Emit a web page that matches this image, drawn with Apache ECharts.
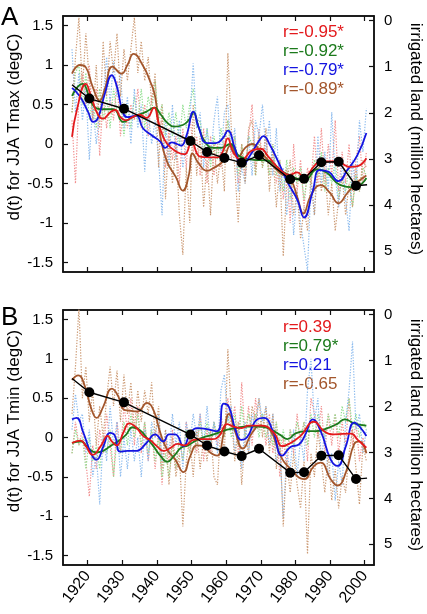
<!DOCTYPE html>
<html><head><meta charset="utf-8">
<script src="https://cdn.jsdelivr.net/npm/echarts@6/dist/echarts.min.js"></script>
<style>html,body{margin:0;padding:0;background:#fff}#c{width:427px;height:614px}</style>
</head><body><div id="c"></div>
<script>
// ---------- DATA ----------
const firstYear = 1915;  // annual series run 1915..2000 (plotted at mid-year)
const xTicks = [1920,1930,1940,1950,1960,1970,1980,1990,2000];
const yTicksLeft = [-1.5,-1,-0.5,0,0.5,1,1.5];
const yTicksRight = [0,1,2,3,4,5];

// irrigated land (million hectares), census points
const irrYears = [1915.5,1920.5,1930.5,1949.7,1954.5,1959.5,1964.5,1969.5,1978.5,1982.5,1987.5,1992.5,1997.5,2000.7];
const irrValues = [1.39,1.69,1.91,2.61,2.85,2.98,3.08,2.92,3.44,3.43,3.07,3.06,3.58,3.56];
const irrDot = [false,true,true,true,true,true,true,true,true,true,true,true,true,false];

// Panel A (Tmax) smoothed series [year, value]
const redA_s = [[1915.5,0.09],[1917,0.45],[1919.5,0.76],[1921,0.6],[1923,0.37],[1924.5,0.32],[1926.5,0.4],[1928,0.43],[1929.5,0.34],[1931,0.3],[1933,0.34],[1935,0.37],[1937,0.33],[1939.2,0.46],[1940.3,0.3],[1941.2,0.16],[1943,0.0],[1945.8,-0.1],[1948,-0.13],[1950,0.01],[1952.5,-0.16],[1955,-0.17],[1957.5,-0.17],[1959,-0.1],[1960.5,0.07],[1962,-0.1],[1964.5,-0.2],[1967.5,-0.08],[1970,-0.06],[1972,-0.15],[1975.7,-0.33],[1978.5,-0.39],[1980.5,-0.36],[1982.5,-0.42],[1985.4,-0.28],[1987.3,-0.22],[1991,-0.22],[1993,-0.24],[1996,-0.29],[1998,-0.28],[2000.5,-0.18]];
const greenA_s = [[1915.5,0.61],[1918.5,0.76],[1920.5,0.6],[1922,0.47],[1924.5,0.44],[1927.5,0.44],[1930.3,0.28],[1933,0.34],[1937,0.41],[1939.3,0.46],[1941,0.38],[1943,0.27],[1945,0.22],[1947.5,0.24],[1949.5,0.32],[1950.6,0.4],[1952,0.22],[1954,0.02],[1956.4,-0.05],[1958.5,-0.05],[1961.2,0.0],[1964,-0.16],[1968,-0.2],[1972,-0.21],[1975.7,-0.33],[1978.5,-0.4],[1982.5,-0.46],[1986.4,-0.32],[1989,-0.36],[1993,-0.52],[1997,-0.55],[2000.5,-0.43]];
const blueA_s = [[1915.5,0.71],[1917.8,0.6],[1920.2,0.4],[1921.6,0.28],[1923,0.33],[1925,0.64],[1927,0.87],[1928.5,0.72],[1930,0.43],[1931.5,0.34],[1934,0.36],[1936,0.2],[1938.5,0.11],[1941,0.03],[1942.4,-0.05],[1944.3,0.02],[1945.8,0.0],[1947,-0.02],[1948.5,0.1],[1950.6,0.41],[1952,0.22],[1954.5,0.01],[1957,0.01],[1959,0.07],[1960.5,0.17],[1962.5,-0.05],[1964.5,-0.28],[1967,-0.14],[1969.5,0.04],[1970.8,0.1],[1972.5,0.0],[1975,-0.22],[1977.7,-0.48],[1980.6,-0.71],[1982.5,-0.93],[1985,-0.6],[1987,-0.33],[1989.5,-0.35],[1992.4,-0.47],[1995,-0.33],[1997.9,-0.14],[2000.5,0.14]];
const brownA_s = [[1915.5,0.89],[1917.8,1.0],[1919.5,0.97],[1921.5,0.72],[1923.5,0.55],[1925,0.7],[1927.2,0.98],[1929.8,0.89],[1931.5,1.0],[1933.3,1.14],[1936,0.99],[1938,0.8],[1939.5,0.6],[1941,0.1],[1942.9,-0.22],[1945.5,-0.42],[1947.5,-0.59],[1949.2,-0.4],[1950.3,-0.12],[1952,-0.24],[1954.5,-0.34],[1956.5,-0.3],[1959,-0.22],[1961.3,-0.02],[1963.5,-0.16],[1965.5,-0.05],[1967.5,0.0],[1970,-0.1],[1972,-0.2],[1975.7,-0.37],[1978.6,-0.45],[1980.6,-0.68],[1982.3,-0.88],[1984.5,-0.65],[1987.3,-0.52],[1990,-0.62],[1992.4,-0.75],[1995,-0.62],[1997.5,-0.5],[2000.5,-0.4]];

// Panel A annual values 1915..2000
const redA = [0.3,-0.5,0.6,0.9,0.5,1.0,0.3,0.7,-0.15,0.6,0.2,0.6,0.3,0.8,0.1,0.5,0.2,0.5,0.3,0.7,0.2,0.5,0.1,0.6,0.8,0.2,0.3,-0.3,0.2,-0.2,0.1,-0.5,0.2,-0.3,0.4,-0.1,0.1,-0.4,0.2,-0.5,0.1,-0.4,0.0,-0.3,0.1,0.3,-0.2,0.1,-0.5,-0.1,-0.4,0.1,0.5,-0.3,0.2,-0.2,0.1,-0.4,0.0,-0.5,-0.2,-0.7,-0.3,-1.0,0.0,-0.6,-0.2,-0.8,-0.3,-0.5,0.1,-0.5,0.2,-0.5,0.0,-0.4,0.3,-0.6,-0.1,-0.5,0.0,-0.6,-0.2,0.1,-0.5,-0.1];
const greenA = [0.4,0.9,1.0,0.5,0.9,0.3,0.6,0.2,0.7,0.3,0.6,0.2,0.7,0.4,0.5,0.1,0.5,0.2,0.6,0.3,0.7,0.2,0.6,0.4,0.8,0.3,0.5,0.1,0.4,0.1,0.4,0.0,0.5,0.2,0.5,0.7,0.2,0.3,-0.1,0.2,-0.3,0.1,-0.2,0.2,-0.1,0.3,-0.1,0.1,-0.4,0.0,-0.3,0.1,0.0,-0.4,0.1,-0.3,-0.1,-0.4,0.0,-0.4,-0.2,-0.6,-0.2,-0.7,-0.3,-0.5,-0.3,-0.7,-0.4,-0.5,-0.2,-0.4,-0.1,-0.6,-0.3,-0.5,-0.2,-0.7,-0.4,-0.6,-0.3,-0.8,-0.4,-0.6,-0.3,-0.4];
const blueA = [1.2,0.4,0.9,0.3,0.7,-0.2,0.5,0.0,0.4,0.6,1.1,0.5,1.05,0.6,0.9,0.2,0.6,0.0,0.7,0.2,0.5,-0.35,0.4,0.0,0.3,-0.2,-0.9,0.3,-0.3,0.5,-0.2,0.3,-0.3,0.0,0.3,1.02,0.2,0.4,-0.3,0.2,-0.2,0.3,0.6,-0.2,0.4,0.5,-0.1,0.2,-0.6,-0.3,-0.5,0.1,-0.4,0.3,0.1,0.5,-0.1,0.3,-0.4,0.2,-0.6,-0.3,-0.9,-0.4,-1.15,-0.6,-1.0,-1.3,-1.6,-0.5,-0.9,0.1,-0.5,-0.1,-0.6,0.4,-0.4,-0.8,-0.2,-0.7,-1.1,-0.2,-0.6,0.3,-0.1,0.45];
const brownA = [0.4,1.1,1.6,0.7,1.4,0.8,0.3,1.0,0.2,1.3,0.6,1.3,0.9,1.4,0.6,1.2,0.8,1.2,1.6,0.9,1.3,0.8,1.1,0.5,0.9,-0.3,0.5,-0.7,0.1,-0.5,0.0,-0.9,-1.4,-0.3,-1.0,0.5,-0.4,0.1,-0.8,-0.2,-0.9,0.0,-0.5,-0.1,-0.6,1.15,0.2,-0.3,-1.0,0.0,-0.5,0.2,0.3,-0.4,0.1,-0.3,0.2,-0.6,-0.1,-0.8,-0.3,-1.42,-0.5,-0.2,-0.9,-0.6,-1.2,-0.8,-1.1,-0.4,-0.9,-0.2,-0.6,-0.3,-0.9,-0.5,-1.1,-0.7,-0.4,-0.9,-0.5,-0.8,-0.3,-0.6,-0.2,-0.3];

// Panel B (Tmin) smoothed series
const redB_s = [[1915.5,-0.07],[1918,-0.04],[1919.5,-0.11],[1921.5,-0.22],[1923.8,-0.11],[1925.8,0.02],[1927,-0.05],[1928.4,-0.1],[1930.3,0.06],[1932,0.18],[1934,0.13],[1936,0.02],[1938,-0.03],[1940,-0.11],[1942,-0.17],[1944,-0.13],[1946,-0.08],[1948,-0.1],[1950.6,-0.03],[1953,-0.02],[1956,-0.02],[1958,0.02],[1960.3,0.17],[1962,0.14],[1964.5,0.12],[1966.5,0.15],[1970,0.15],[1973.8,0.06],[1976.2,-0.11],[1978.6,-0.07],[1981.5,0.02],[1985.4,0.2],[1988.3,0.08],[1991.2,0.04],[1996,0.05],[1998,-0.03],[2000.5,-0.13]];
const greenB_s = [[1915.5,-0.07],[1918,-0.05],[1920.5,-0.15],[1922.5,-0.19],[1924.5,-0.17],[1926.5,-0.11],[1929,-0.04],[1931,0.03],[1933,0.13],[1935.2,0.09],[1937,0.0],[1939,-0.11],[1941,-0.23],[1943,-0.31],[1945,-0.23],[1947,-0.13],[1949,-0.1],[1951.6,-0.03],[1954,0.01],[1956.4,0.04],[1960.3,0.1],[1963,0.12],[1966,0.14],[1970,0.14],[1973,0.1],[1975.7,0.03],[1977.7,-0.02],[1980,0.05],[1983,0.08],[1986,0.08],[1989.3,0.12],[1992,0.17],[1994.3,0.23],[1997,0.18],[2000.5,0.15]];
const blueB_s = [[1915.5,0.23],[1916.8,0.25],[1918.7,0.07],[1921.2,-0.22],[1922.6,-0.28],[1924.5,-0.12],[1926.5,0.06],[1927.8,0.03],[1929.4,-0.18],[1931.5,-0.17],[1934,-0.17],[1937,-0.07],[1939.5,0.04],[1941.9,-0.05],[1943.5,0.04],[1945.3,0.04],[1947.7,-0.11],[1949.7,0.06],[1951.6,0.12],[1954,0.11],[1957.4,0.08],[1959.3,0.43],[1960.8,0.39],[1962.7,0.1],[1964.4,-0.03],[1966,0.0],[1969,0.23],[1970.9,0.25],[1973.5,0.08],[1976.2,-0.23],[1978.6,-0.12],[1981,-0.09],[1983,0.05],[1985,0.23],[1987.3,0.08],[1990.2,-0.28],[1992.2,-0.36],[1994.5,-0.12],[1997,0.19],[1998.5,0.14],[2000.5,0.02]];
const brownB_s = [[1915.5,0.73],[1917.3,0.79],[1919,0.68],[1921.2,0.35],[1922.6,0.25],[1924.5,0.39],[1927,0.62],[1928.9,0.52],[1930.3,0.36],[1932.3,0.34],[1934.5,0.33],[1937.1,0.44],[1939,0.35],[1941,0.06],[1942.9,-0.15],[1945.3,-0.28],[1947.7,-0.44],[1949.7,-0.23],[1951.6,-0.1],[1953.5,-0.11],[1955.4,-0.19],[1957.4,-0.23],[1959.3,0.05],[1960.8,0.3],[1962.7,0.06],[1964.8,-0.14],[1967.5,0.06],[1970,0.15],[1972.8,0.09],[1975.7,-0.23],[1978.6,-0.4],[1982.5,-0.53],[1985.4,-0.36],[1987.3,-0.32],[1990.2,-0.53],[1992.2,-0.61],[1994.6,-0.44],[1997,-0.08],[1998.5,-0.05],[2000.5,-0.2]];

// Panel B annual values 1915..2000
const redB = [-0.2,0.2,-0.1,0.1,-0.3,-0.75,-0.1,-0.4,0.1,-0.2,0.3,-0.1,-0.5,0.2,-0.2,0.4,0.1,0.5,-0.1,0.4,-0.2,0.2,-0.3,0.1,-0.4,0.1,-0.6,0.0,-0.3,0.1,-0.4,0.0,-0.3,0.2,-0.2,0.1,-0.2,0.3,-0.3,0.1,-0.2,0.2,-0.1,0.3,0.0,0.5,0.1,0.4,-0.2,0.7,0.0,0.4,-0.1,0.5,0.1,0.3,-0.1,0.3,-0.2,0.2,-0.5,0.0,-0.4,0.1,-0.2,0.3,-0.1,0.2,-0.3,0.5,0.3,0.0,0.4,-0.2,0.3,-0.1,0.3,-0.2,0.2,-0.1,0.5,-0.1,0.2,-0.3,0.0,-0.2];
const greenB = [-0.2,0.1,-0.1,0.0,-0.4,0.0,-0.3,-0.1,-0.4,0.0,-0.2,0.1,-0.5,0.0,-0.2,0.2,-0.1,0.3,0.0,0.3,-0.1,0.2,-0.2,0.1,-0.3,0.0,-0.5,-0.2,-0.5,-0.1,-0.4,0.0,-0.3,0.1,-0.2,0.1,-0.1,0.2,-0.1,0.2,-0.1,0.2,0.0,0.2,0.0,0.3,0.0,0.3,-0.1,0.4,0.0,0.3,0.1,0.3,0.0,0.3,0.0,0.2,-0.1,0.2,-0.2,0.1,-0.2,0.1,-0.1,0.2,0.0,0.2,-0.1,0.3,0.0,0.3,0.1,0.0,0.3,0.1,0.3,0.0,0.4,0.2,0.5,0.1,0.3,0.0,0.2,0.1];
const blueB = [0.1,0.55,0.2,0.3,-0.2,0.1,-0.5,-0.2,-0.85,0.0,-0.3,0.4,-0.1,0.2,-0.5,0.0,-0.4,0.1,-0.3,0.0,-0.5,0.1,-0.3,0.2,0.0,0.3,-0.3,0.1,-0.2,0.3,-0.1,0.2,-0.4,0.2,-0.1,0.3,0.0,0.3,-0.1,0.4,-0.1,0.2,-0.2,0.6,0.8,0.2,0.4,-0.2,0.1,-0.4,0.2,-0.2,0.3,0.1,0.5,0.2,0.4,-0.1,0.3,-0.3,-0.1,-1.03,-0.2,-0.4,0.1,-0.5,0.0,-0.3,0.6,1.0,0.2,0.5,-0.3,0.1,-0.5,-0.2,-0.8,-0.3,-0.6,0.2,0.6,1.22,0.1,0.3,-0.2,0.1];
const brownB = [0.3,0.9,1.65,0.5,0.9,0.2,0.6,-0.1,0.4,0.0,0.5,0.9,0.4,0.85,0.2,0.8,0.3,0.7,0.1,0.6,0.2,0.6,0.3,0.7,0.0,0.4,-0.4,0.1,-0.6,0.0,-0.5,-0.2,-1.13,-0.3,0.0,-0.5,0.1,-0.4,0.0,-0.3,0.1,-0.5,-0.6,0.2,-0.2,1.12,0.3,-0.3,0.2,-0.6,0.0,-0.2,0.4,0.2,0.5,0.0,0.4,-0.2,0.3,-0.4,0.0,-1.13,-0.3,-0.7,-0.2,-0.6,-0.9,-0.3,-1.48,-0.2,-0.5,0.1,-0.3,-0.7,-0.2,-0.8,-0.4,-0.9,-0.5,-0.7,-0.2,0.1,-0.4,-0.85,-0.1,-0.3];

const labelsA = ['r=-0.95*','r=-0.92*','r=-0.79*','r=-0.89*'];
const labelsB = ['r=0.39','r=0.79*','r=0.21','r=-0.65'];
const axisNameA = 'd(t) for JJA Tmax (degC)';
const axisNameB = 'd(t) for JJA Tmin (degC)';
const rightName = 'irrigated land (million hectares)';

// ---------- STYLE ----------
const C = {red:'#e3191c', green:'#1c7a1c', blue:'#1414e0', brown:'#a3562c'};
const L = {red:'#f19090', green:'#8fdf8f', blue:'#8cbbee', brown:'#cc9a74'};
const FONT = 'Liberation Sans, Arial, Helvetica, sans-serif';
const grids = [
  {left:63, top:16, width:311, height:256},
  {left:63, top:310, width:311, height:255}
];

const annual = arr => arr.map((v,i) => [firstYear + i + 0.5, v]);

const chart = echarts.init(document.getElementById('c'), null, {renderer:'canvas'});
const xAxes = [], yAxes = [], series = [];
grids.forEach((g, gi) => {
  const tickStyle = {show:true, inside:true, length:5, lineStyle:{color:'#111', width:1.2}};
  xAxes.push({gridIndex:gi, type:'value', min:1912.9, max:2002.7, position:'bottom',
    axisLine:{show:true, onZero:false, lineStyle:{color:'#111', width:1.5}},
    axisTick:Object.assign({customValues:xTicks}, tickStyle),
    axisLabel:{show:gi===1, customValues:xTicks, rotate:52, fontSize:16, color:'#000', fontFamily:FONT, margin:8, formatter: v => String(v)},
    splitLine:{show:false}});
  xAxes.push({gridIndex:gi, type:'value', min:1912.9, max:2002.7, position:'top',
    axisLine:{show:true, onZero:false, lineStyle:{color:'#111', width:1.5}},
    axisTick:Object.assign({customValues:xTicks}, tickStyle),
    axisLabel:{show:false}, splitLine:{show:false}});
  yAxes.push({gridIndex:gi, type:'value', min:-1.62, max:1.62, position:'left',
    axisLine:{show:true, onZero:false, lineStyle:{color:'#111', width:1.5}},
    axisTick:Object.assign({customValues:yTicksLeft}, tickStyle),
    axisLabel:{customValues:yTicksLeft, fontSize:15, color:'#000', fontFamily:FONT, margin:10},
    splitLine:{show:false}});
  yAxes.push({gridIndex:gi, type:'value', min:-0.1, max:5.45, inverse:true, position:'right',
    axisLine:{show:true, onZero:false, lineStyle:{color:'#111', width:1.5}},
    axisTick:Object.assign({customValues:yTicksRight}, tickStyle),
    axisLabel:{customValues:yTicksRight, fontSize:15, color:'#000', fontFamily:FONT, margin:10},
    splitLine:{show:false}});
});

function addPanel(gi, dotted, smooth) {
  const xi = gi*2, yi = gi*2;
  const keys = ['red','green','blue','brown'];
  keys.forEach((k, i) => {
    series.push({type:'line', xAxisIndex:xi, yAxisIndex:yi, data:annual(dotted[i]), symbol:'none',
      lineStyle:{color:L[k], width:1.2, type:[1.3,1.5]}, z:1, silent:true, clip:true});
  });
  ['brown','green','blue','red'].forEach(k => {
    const i = keys.indexOf(k);
    series.push({type:'line', xAxisIndex:xi, yAxisIndex:yi, data:smooth[i], symbol:'none', smooth:0.5,
      lineStyle:{color:C[k], width:1.8}, z:3, silent:true});
  });
  series.push({type:'line', xAxisIndex:xi, yAxisIndex:yi+1,
    data: irrYears.map((y, j) => ({value:[y, irrValues[j]], symbol: irrDot[j] ? 'circle' : 'none'})),
    symbolSize:10, itemStyle:{color:'#000'}, lineStyle:{color:'#000', width:1.4}, z:5, silent:true});
}
addPanel(0, [redA, greenA, blueA, brownA], [redA_s, greenA_s, blueA_s, brownA_s]);
addPanel(1, [redB, greenB, blueB, brownB], [redB_s, greenB_s, blueB_s, brownB_s]);

const cols = [C.red, C.green, C.blue, C.brown];
const graphic = [
  {type:'text', left:1, top:5, style:{text:'A', fontSize:26, fill:'#000', fontFamily:FONT}},
  {type:'text', left:1, top:305, style:{text:'B', fontSize:26, fill:'#000', fontFamily:FONT}},
  {type:'text', x:14, y:127, rotation:Math.PI/2, style:{text:axisNameA, fontSize:17, fill:'#000', fontFamily:FONT, align:'center', verticalAlign:'middle'}},
  {type:'text', x:14, y:421, rotation:Math.PI/2, style:{text:axisNameB, fontSize:17, fill:'#000', fontFamily:FONT, align:'center', verticalAlign:'middle'}},
  {type:'text', x:416, y:139, rotation:-Math.PI/2, style:{text:rightName, fontSize:17, fill:'#000', fontFamily:FONT, align:'center', verticalAlign:'middle'}},
  {type:'text', x:416, y:435, rotation:-Math.PI/2, style:{text:rightName, fontSize:17, fill:'#000', fontFamily:FONT, align:'center', verticalAlign:'middle'}}
];
labelsA.forEach((t, i) => graphic.push({type:'text', left:283, top:24 + i*19, style:{text:t, fontSize:17, fill:cols[i], fontFamily:FONT}}));
labelsB.forEach((t, i) => graphic.push({type:'text', left:283, top:319 + i*19, style:{text:t, fontSize:17, fill:cols[i], fontFamily:FONT}}));

chart.setOption({
  animation:false,
  backgroundColor:'#fff',
  grid: grids.map(g => Object.assign({show:true, borderColor:'#111', borderWidth:1.5, backgroundColor:'transparent'}, g)),
  xAxis: xAxes, yAxis: yAxes, series: series, graphic: graphic
});
</script></body></html>
